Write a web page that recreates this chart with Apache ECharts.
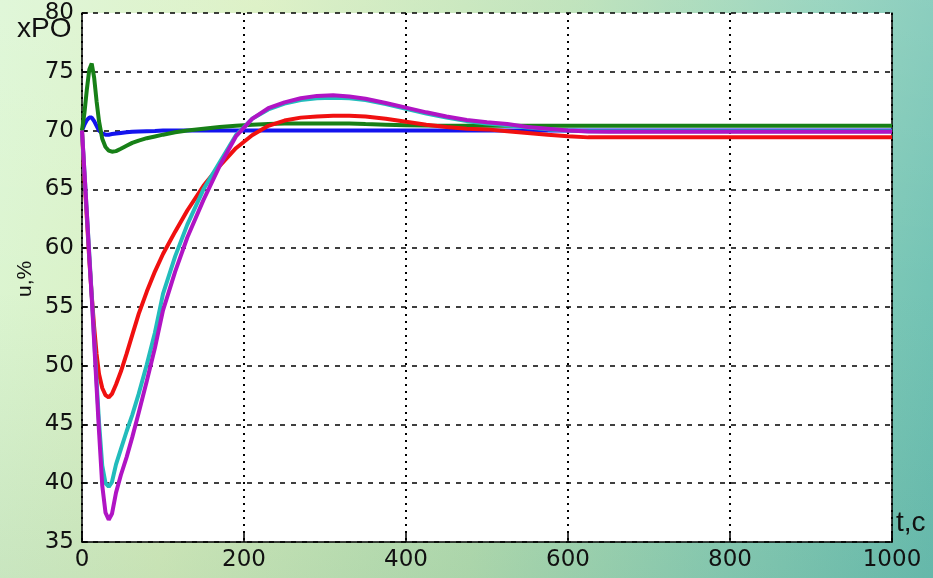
<!DOCTYPE html>
<html>
<head>
<meta charset="utf-8">
<script src="https://cdn.jsdelivr.net/npm/echarts@6/dist/echarts.min.js"></script>
<style>
html,body{margin:0;padding:0;width:933px;height:578px;overflow:hidden;}
body{background:
 linear-gradient(to bottom, rgba(255,255,255,0.12) 0%, rgba(255,255,255,0) 50%, rgba(40,110,80,0.10) 100%),
 linear-gradient(100deg, #dcf6d4 0%, #d9efc0 25%, #b9e0b4 55%, #8ccfb8 80%, #6cc0b4 100%);}
#chart{width:933px;height:578px;}
</style>
</head>
<body>
<div id="chart"></div>
<script>
// time, s
const t = [0,3,6,9,12,15,18,21,25,29,33,37,42,48,55,62,70,80,90,100,115,130,150,170,190,210,230,250,270,290,310,330,350,375,400,425,450,475,500,525,550,575,600,625,650,700,800,900,1000];
const blueU = [70,70.5,70.9,71.1,71.1,70.8,70.4,70.0,69.75,69.65,69.65,69.7,69.75,69.8,69.85,69.9,69.93,69.95,69.97,70,70,70,70,70,70,70,70,70,70,70,70,70,70,70,70,70,70,70,70,70,70,70,70,70,70,70,70,70,70];
const greenU = [70,71.5,73.5,75.2,75.7,74.5,72.5,70.8,69.3,68.6,68.3,68.2,68.25,68.45,68.7,68.95,69.15,69.35,69.5,69.65,69.85,70.0,70.15,70.3,70.4,70.5,70.55,70.6,70.6,70.6,70.6,70.6,70.55,70.5,70.45,70.42,70.4,70.4,70.4,70.4,70.4,70.4,70.4,70.4,70.4,70.4,70.4,70.4,70.4];
const redU = [70,66,62.5,59,56,53.3,51,49.3,48.1,47.5,47.3,47.6,48.4,49.5,51.0,52.6,54.4,56.3,58.0,59.5,61.4,63.2,65.3,67.0,68.5,69.6,70.4,70.85,71.1,71.2,71.25,71.25,71.2,71.0,70.75,70.5,70.3,70.15,70.1,69.95,69.8,69.65,69.52,69.42,69.42,69.42,69.42,69.42,69.42];
const cyanU = [70,66.5,63,59.5,56,52.3,48.7,45.2,41.5,40.0,39.7,40.1,41.6,42.9,44.4,45.8,47.6,50.1,52.8,56.1,59.3,62.0,65.0,67.3,69.6,71.0,71.8,72.3,72.6,72.75,72.8,72.75,72.6,72.25,71.85,71.45,71.1,70.8,70.6,70.45,70.25,70.1,70.0,69.95,69.95,69.95,69.95,69.95,69.95];
const magentaU = [70,66.5,63,59.3,55.8,52,48.2,44.4,39.8,37.5,36.9,37.4,39.2,40.7,42.2,43.9,46,48.7,51.5,54.7,58,60.9,64.1,67.0,69.5,71.0,71.9,72.4,72.75,72.95,73.0,72.9,72.7,72.35,71.95,71.55,71.2,70.9,70.7,70.55,70.3,70.15,70.0,69.92,69.9,69.9,69.9,69.9,69.9];
const xTicks = [0,200,400,600,800,1000];
const yTicks = [35,40,45,50,55,60,65,70,75,80];

const pairs = u => t.map((x,i)=>[x,u[i]]);
const font = '"DejaVu Sans", Verdana, sans-serif';
const font2 = '"Liberation Sans", Arial, sans-serif';
const mk = (name,u,color) => ({name,type:'line',data:pairs(u),showSymbol:false,symbol:'none',smooth:false,
  lineStyle:{color,width:4},itemStyle:{color},animation:false});

const chart = echarts.init(document.getElementById('chart'),null,{renderer:'canvas'});
chart.setOption({
  animation:false,
  backgroundColor:'transparent',
  grid:{left:82,right:41,top:13,bottom:36,show:true,backgroundColor:'#ffffff',borderWidth:0},
  xAxis:{type:'value',min:0,max:1000,interval:200,
    axisLine:{show:true,lineStyle:{color:'#000',width:1.5}},
    axisTick:{show:true,inside:true,length:9,lineStyle:{color:'#000',width:1.5}},
    axisLabel:{fontSize:23,color:'#111',fontFamily:font,margin:7,formatter:v=>xTicks.includes(v)?String(v):''},
    splitLine:{show:true,lineStyle:{color:'#000',width:2,type:[2,5]}}},
  yAxis:[{type:'value',min:35,max:80,interval:5,
    axisLine:{show:true,lineStyle:{color:'#000',width:1.5}},
    axisTick:{show:true,inside:true,length:6,lineStyle:{color:'#000',width:1.5}},
    axisLabel:{fontSize:23,color:'#111',fontFamily:font,margin:8,formatter:v=>yTicks.includes(v)?String(v):''},
    splitLine:{show:true,lineStyle:{color:'#000',width:1.5,type:[5,6]}}},
   {type:'value',position:'right',min:35,max:80,interval:5,
    axisLine:{show:true,lineStyle:{color:'#000',width:1.5}},
    axisTick:{show:false},axisLabel:{show:false},splitLine:{show:false}}],
  series:[
    mk('blue',blueU,'#1414ee'),
    mk('green',greenU,'#178017'),
    mk('red',redU,'#f01010'),
    mk('cyan',cyanU,'#22bcbc'),
    mk('magenta',magentaU,'#b014c4')
  ],
  graphic:[
    {type:'text',left:17,top:15,style:{text:'xPO',fontSize:28,fontFamily:font2,fill:'#111'}},
    {type:'text',x:15,y:297,rotation:Math.PI/2,style:{text:'u,%',fontSize:21,fontFamily:font2,fill:'#111'}},
    {type:'text',left:896,top:509,style:{text:'t,c',fontSize:28,fontFamily:font2,fill:'#111'}}
  ]
});
</script>
</body>
</html>
